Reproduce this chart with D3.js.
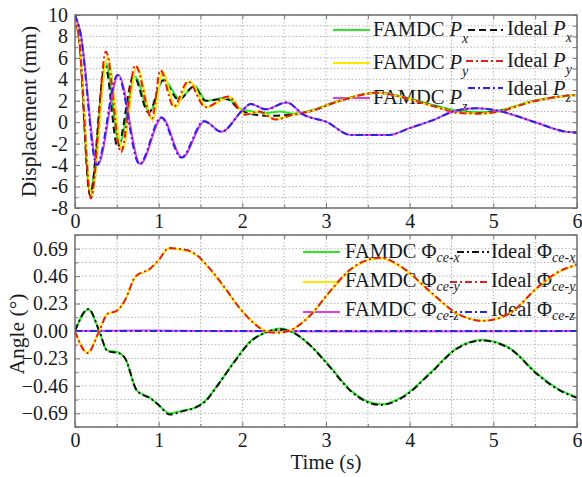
<!DOCTYPE html>
<html>
<head>
<meta charset="utf-8">
<script src="https://cdn.jsdelivr.net/npm/d3@7/dist/d3.min.js"></script>
<style>
  html, body { margin: 0; padding: 0; background: #fff; }
  svg { display: block; }
  text { font-family: "Liberation Serif", "Times New Roman", serif; fill: #1a1a1a; }
</style>
</head>
<body>
<svg id="chart" width="582" height="477"></svg>
<script>
// ---- Displacement (mm) vs time (s): [t, value] ----
const pxFamdc = [[0,10],[0.05,7.8],[0.18,-6.6],[0.37,5.5],[0.53,-2.0],[0.72,4.25],[0.89,0.95],[1.06,4.0],[1.25,2.2],[1.43,3.4],[1.57,2.0],[1.8,2.3],[1.97,1.3],[2.12,1.0],[2.3,0.85],[2.45,1.0],[2.6,0.8],[2.8,1.05],[3.17,2.05],[3.62,2.75],[3.93,2.35],[4.28,1.6],[4.56,1.1],[4.84,0.95],[5.04,1.05],[5.48,2.0],[5.92,2.5],[6,2.55]];
const pxIdeal  = [[0,10],[0.05,7.6],[0.18,-6.8],[0.36,5.3],[0.51,-2.3],[0.7,4.3],[0.88,0.9],[1.05,3.9],[1.24,2.1],[1.42,3.3],[1.56,2.0],[1.8,2.2],[2.0,1.0],[2.3,0.6],[2.6,0.7],[2.8,1.0],[3.17,2.0],[3.62,2.75],[3.93,2.3],[4.28,1.55],[4.56,1.0],[4.84,0.85],[5.04,1.0],[5.48,1.95],[5.92,2.5],[6,2.55]];
const pyFamdc = [[0,10],[0.05,8.0],[0.2,-6.9],[0.39,6.1],[0.57,-2.6],[0.74,5.2],[0.93,0.2],[1.05,4.7],[1.2,1.4],[1.37,3.8],[1.58,1.4],[1.85,2.35],[2.04,0.7],[2.2,1.0],[2.4,0.3],[2.62,0.7],[2.8,1.0],[3.17,2.0],[3.62,2.75],[3.93,2.3],[4.28,1.5],[4.6,0.9],[4.84,0.8],[5.04,0.95],[5.48,1.95],[5.92,2.5],[6,2.55]];
const pyIdeal  = [[0,10],[0.05,7.7],[0.19,-7.1],[0.37,6.6],[0.55,-2.8],[0.72,5.3],[0.92,0.35],[1.02,4.85],[1.18,1.45],[1.35,3.8],[1.56,1.4],[1.83,2.4],[2.03,0.7],[2.2,1.0],[2.4,0.25],[2.6,0.7],[2.8,1.0],[3.17,2.0],[3.62,2.75],[3.93,2.3],[4.28,1.5],[4.6,0.85],[4.84,0.8],[5.04,0.95],[5.48,1.95],[5.92,2.5],[6,2.55]];
const pzFamdc = [[0,10],[0.06,8.6],[0.27,-4.0],[0.52,4.4],[0.78,-3.9],[1.04,0.45],[1.28,-3.3],[1.55,0.1],[1.75,-0.9],[2.0,1.1],[2.1,1.7],[2.28,1.2],[2.53,1.85],[2.73,0.7],[3.0,0.05],[3.3,-1.2],[3.75,-1.2],[4.0,-0.55],[4.28,0.2],[4.56,1.1],[4.8,1.3],[5.04,1.1],[5.48,0.05],[5.88,-0.9],[6,-0.95]];
const pzIdeal  = [[0,10],[0.06,8.5],[0.26,-4.0],[0.51,4.4],[0.77,-3.9],[1.03,0.45],[1.27,-3.3],[1.54,0.1],[1.75,-0.9],[2.0,1.1],[2.1,1.7],[2.28,1.2],[2.53,1.85],[2.73,0.7],[3.0,0.05],[3.3,-1.2],[3.75,-1.2],[4.0,-0.55],[4.28,0.2],[4.56,1.1],[4.8,1.3],[5.04,1.1],[5.48,0.05],[5.88,-0.9],[6,-0.95]];

// ---- Angle (°) vs time (s): [t, value] ----
const phxFamdc = [[0,0],[0.16,0.18],[0.29,0],[0.38,-0.16],[0.52,-0.18],[0.6,-0.23],[0.74,-0.5],[0.9,-0.56],[1.0,-0.62],[1.13,-0.69],[1.3,-0.665],[1.43,-0.645],[1.55,-0.59],[1.73,-0.43],[1.93,-0.23],[2.09,-0.09],[2.29,-0.01],[2.45,0.02],[2.6,-0.01],[2.81,-0.12],[3.05,-0.3],[3.29,-0.495],[3.65,-0.615],[3.92,-0.55],[4.24,-0.355],[4.56,-0.145],[4.86,-0.075],[5.2,-0.145],[5.52,-0.355],[5.76,-0.48],[6,-0.555]];
const phxIdeal  = [[0,0],[0.16,0.185],[0.29,0],[0.39,-0.17],[0.52,-0.185],[0.6,-0.23],[0.74,-0.5],[0.9,-0.565],[1.0,-0.62],[1.13,-0.7],[1.3,-0.67],[1.43,-0.645],[1.55,-0.595],[1.73,-0.43],[1.93,-0.235],[2.09,-0.095],[2.29,-0.01],[2.45,0.015],[2.6,-0.01],[2.81,-0.12],[3.05,-0.305],[3.29,-0.5],[3.65,-0.62],[3.92,-0.555],[4.24,-0.36],[4.56,-0.15],[4.86,-0.08],[5.2,-0.15],[5.52,-0.36],[5.76,-0.485],[6,-0.56]];
const phyFamdc = [[0,0],[0.15,-0.18],[0.29,0],[0.38,0.14],[0.5,0.165],[0.6,0.26],[0.72,0.45],[0.9,0.52],[1.0,0.59],[1.12,0.69],[1.33,0.675],[1.45,0.635],[1.61,0.52],[1.81,0.34],[1.97,0.19],[2.13,0.075],[2.29,0],[2.41,-0.01],[2.55,0],[2.81,0.13],[3.05,0.33],[3.29,0.51],[3.65,0.61],[3.92,0.525],[4.24,0.33],[4.56,0.148],[4.88,0.086],[5.2,0.148],[5.52,0.358],[5.76,0.484],[6,0.553]];
const phyIdeal  = [[0,0],[0.15,-0.185],[0.29,0],[0.39,0.145],[0.5,0.17],[0.6,0.26],[0.72,0.455],[0.9,0.525],[1.0,0.595],[1.12,0.695],[1.33,0.68],[1.45,0.64],[1.61,0.525],[1.81,0.345],[1.97,0.19],[2.13,0.07],[2.29,-0.005],[2.41,-0.015],[2.55,0],[2.81,0.13],[3.05,0.335],[3.29,0.515],[3.65,0.615],[3.92,0.53],[4.24,0.335],[4.56,0.15],[4.88,0.085],[5.2,0.15],[5.52,0.36],[5.76,0.49],[6,0.555]];
const phzFamdc = [[0,0],[0.8,0.004],[1.5,0],[3.5,-0.004],[6,0]];
const phzIdeal  = [[0,0],[6,0]];

// ---- ticks ----
const timeTicks = [0, 1, 2, 3, 4, 5, 6];
const dispTicks = [10, 8, 6, 4, 2, 0, -2, -4, -6, -8];
const angleTicks = [0.69, 0.46, 0.23, 0.00, -0.23, -0.46, -0.69];

// ---- legend labels ----
const dispLegend = [
  { main: "FAMDC ", sym: "P", sub: "x" },
  { main: "FAMDC ", sym: "P", sub: "y" },
  { main: "FAMDC ", sym: "P", sub: "z" },
  { main: "Ideal ", sym: "P", sub: "x" },
  { main: "Ideal ", sym: "P", sub: "y" },
  { main: "Ideal ", sym: "P", sub: "z" }
];
const angleLegend = [
  { main: "FAMDC Φ", sub: "ce-x" },
  { main: "FAMDC Φ", sub: "ce-y" },
  { main: "FAMDC Φ", sub: "ce-z" },
  { main: "Ideal Φ", sub: "ce-x" },
  { main: "Ideal Φ", sub: "ce-y" },
  { main: "Ideal Φ", sub: "ce-z" }
];

const svg = d3.select("#chart");

const styles = {
  famX: { color: "#2be82b", dash: null },
  famY: { color: "#ffe600", dash: null },
  famZ: { color: "#dd3fdd", dash: null },
  idX:  { color: "#111111", dash: "7,4" },
  idXa: { color: "#111111", dash: "7,3,2,3" },
  idY:  { color: "#dd2020", dash: "7,3,2,3" },
  idZ:  { color: "#2626e6", dash: "7,3,2,3" }
};

const x = d3.scaleLinear().domain([0, 6]).range([75, 577]);
const yTop = d3.scaleLinear().domain([-8, 10]).range([208, 15]);
const yBot = d3.scaleLinear().domain([-0.805, 0.805]).range([427, 235]);

const halfSteps = d3.range(0.5, 6, 0.5);

function panel(y, hGrid, leftTicks, labelFmt) {
  const g = svg.append("g");
  const [y0, y1] = y.range();
  // dotted grid
  g.selectAll(".vg").data(halfSteps).join("line")
    .attr("x1", d => x(d)).attr("x2", d => x(d))
    .attr("y1", y1).attr("y2", y0)
    .attr("stroke", "#b4b4b4").attr("stroke-width", 1).attr("stroke-dasharray", "1.5,2");
  g.selectAll(".hg").data(hGrid.concat(leftTicks)).join("line")
    .attr("x1", x(0)).attr("x2", x(6))
    .attr("y1", d => y(d)).attr("y2", d => y(d))
    .attr("stroke", "#b4b4b4").attr("stroke-width", 1).attr("stroke-dasharray", "1.5,2");

  // inward ticks on all four sides
  const allY = hGrid.concat(leftTicks);
  const tickCol = "#777";
  g.append("g").attr("transform", `translate(${x(0)},0)`)
    .call(d3.axisLeft(y).tickValues(leftTicks).tickSize(-5).tickPadding(7).tickFormat(labelFmt))
    .call(a => a.select(".domain").remove())
    .call(a => a.selectAll("line").attr("stroke", tickCol))
    .call(a => a.selectAll("text").attr("font-size", 20).attr("fill", "#1a1a1a")
      .attr("font-family", "Liberation Serif, serif"));
  g.append("g").attr("transform", `translate(${x(6)},0)`)
    .call(d3.axisRight(y).tickValues(allY).tickSize(-4).tickFormat(""))
    .call(a => a.select(".domain").remove())
    .call(a => a.selectAll("line").attr("stroke", tickCol));
  g.append("g").attr("transform", `translate(0,${y1})`)
    .call(d3.axisTop(x).tickValues(halfSteps).tickSize(-4).tickFormat(""))
    .call(a => a.select(".domain").remove())
    .call(a => a.selectAll("line").attr("stroke", tickCol));
  g.append("g").attr("transform", `translate(0,${y0})`)
    .call(d3.axisBottom(x).tickValues(timeTicks).tickSize(-5).tickPadding(6).tickFormat(d3.format("d")))
    .call(a => a.select(".domain").remove())
    .call(a => a.selectAll("line").attr("stroke", tickCol))
    .call(a => a.selectAll("text").attr("font-size", 20).attr("fill", "#1a1a1a")
      .attr("font-family", "Liberation Serif, serif"));
  g.append("g").attr("transform", `translate(0,${y0})`)
    .call(d3.axisBottom(x).tickValues(halfSteps.filter(d => d % 1)).tickSize(-3).tickFormat(""))
    .call(a => a.select(".domain").remove())
    .call(a => a.selectAll("line").attr("stroke", tickCol));
  g.append("g").attr("transform", `translate(${x(0)},0)`)
    .call(d3.axisLeft(y).tickValues(hGrid).tickSize(-3).tickFormat(""))
    .call(a => a.select(".domain").remove())
    .call(a => a.selectAll("line").attr("stroke", tickCol));
  return g;
}

function frame(y) {
  const [y0, y1] = y.range();
  svg.append("rect")
    .attr("x", x(0)).attr("y", y1)
    .attr("width", x(6) - x(0)).attr("height", y0 - y1)
    .attr("fill", "none").attr("stroke", "#6e6e6e").attr("stroke-width", 1.5);
}

function drawLines(y, seriesList) {
  const clipId = "clip" + Math.round(y.range()[1]);
  const [y0, y1] = y.range();
  svg.append("clipPath").attr("id", clipId).append("rect")
    .attr("x", x(0)).attr("y", y1 - 1).attr("width", x(6) - x(0)).attr("height", y0 - y1 + 2);
  const line = d3.line().x(d => x(d[0])).y(d => y(d[1])).curve(d3.curveMonotoneX);
  const g = svg.append("g").attr("clip-path", `url(#${clipId})`);
  seriesList.forEach(([data, st]) => {
    g.append("path").datum(data)
      .attr("d", line)
      .attr("fill", "none")
      .attr("stroke", st.color)
      .attr("stroke-width", 2)
      .attr("stroke-linejoin", "round")
      .attr("stroke-dasharray", st.dash);
  });
}

function legendSample(x1, x2, yy, st) {
  svg.append("line").attr("x1", x1).attr("x2", x2).attr("y1", yy).attr("y2", yy)
    .attr("stroke", st.color).attr("stroke-width", 2.2)
    .attr("stroke-dasharray", st.dash);
}

// ---- top panel: displacement ----
const dispGrid = d3.range(-7, 10, 1).filter(d => d % 2 !== 0);
panel(yTop, dispGrid, dispTicks, d => String(d));

const topLegendPos = [
  { sx: 333, ex: 370, ly: 30, tx: 373, by: 36, st: styles.famX },
  { sx: 333, ex: 370, ly: 63, tx: 373, by: 69, st: styles.famY },
  { sx: 333, ex: 370, ly: 98, tx: 373, by: 104, st: styles.famZ },
  { sx: 468, ex: 503, ly: 30, tx: 507, by: 35, st: styles.idX },
  { sx: 466, ex: 503, ly: 61, tx: 507, by: 67, st: styles.idY },
  { sx: 468, ex: 503, ly: 88, tx: 507, by: 95, st: styles.idZ }
];
dispLegend.forEach((item, i) => {
  const p = topLegendPos[i];
  legendSample(p.sx, p.ex, p.ly, p.st);
  const t = svg.append("text").attr("x", p.tx).attr("y", p.by).attr("font-size", 20.5);
  t.append("tspan").text(item.main);
  t.append("tspan").attr("font-style", "italic").text(item.sym);
  t.append("tspan").attr("font-style", "italic").attr("font-size", 14).attr("dy", 7).text(item.sub);
});

drawLines(yTop, [
  [pxFamdc, styles.famX], [pxIdeal, styles.idX],
  [pyFamdc, styles.famY], [pyIdeal, styles.idY],
  [pzFamdc, styles.famZ], [pzIdeal, styles.idZ]
]);
frame(yTop);

// ---- bottom panel: angle ----
const angleGrid = [-7, -5, -3, -1, 1, 3, 5, 7].map(k => 0.115 * k);
panel(yBot, angleGrid, angleTicks, d3.format(".2f"));

const botLegendPos = [
  { sx: 303, ex: 340, ly: 252, tx: 345, by: 258, st: styles.famX },
  { sx: 303, ex: 340, ly: 282, tx: 345, by: 287, st: styles.famY },
  { sx: 303, ex: 340, ly: 312, tx: 345, by: 316, st: styles.famZ },
  { sx: 457, ex: 489, ly: 252, tx: 491, by: 258, st: styles.idXa },
  { sx: 450, ex: 489, ly: 282, tx: 491, by: 287, st: styles.idY },
  { sx: 450, ex: 489, ly: 312, tx: 491, by: 316, st: styles.idZ }
];
angleLegend.forEach((item, i) => {
  const p = botLegendPos[i];
  legendSample(p.sx, p.ex, p.ly, p.st);
  const t = svg.append("text").attr("x", p.tx).attr("y", p.by).attr("font-size", 20.5);
  t.append("tspan").text(item.main);
  t.append("tspan").attr("font-style", "italic").attr("font-size", 14).attr("dy", 4).text(item.sub);
});

drawLines(yBot, [
  [phzFamdc, styles.famZ], [phzIdeal, styles.idZ],
  [phxFamdc, styles.famX], [phxIdeal, styles.idXa],
  [phyFamdc, styles.famY], [phyIdeal, styles.idY]
]);
frame(yBot);

// ---- axis titles ----
svg.append("text")
  .attr("transform", `translate(36,${(yTop.range()[0] + yTop.range()[1]) / 2}) rotate(-90)`)
  .attr("text-anchor", "middle").attr("font-size", 21.5)
  .text("Displacement (mm)");
svg.append("text")
  .attr("transform", `translate(24,${(yBot.range()[0] + yBot.range()[1]) / 2 + 3}) rotate(-90)`)
  .attr("text-anchor", "middle").attr("font-size", 21.5)
  .text("Angle (°)");
svg.append("text")
  .attr("x", 326).attr("y", 469)
  .attr("text-anchor", "middle").attr("font-size", 21)
  .text("Time (s)");
</script>
</body>
</html>
